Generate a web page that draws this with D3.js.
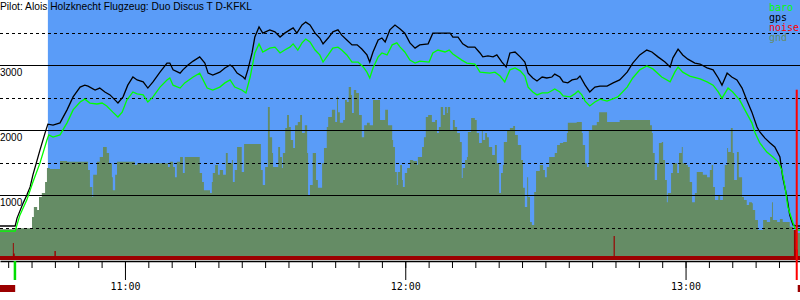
<!DOCTYPE html>
<html>
<head>
<meta charset="utf-8">
<script src="https://cdn.jsdelivr.net/npm/d3@7"></script>
<style>
  body { margin: 0; background: #fff; }
  svg { display: block; }
</style>
</head>
<body>
<div id="graph"></div>
<script>
// DATA (time in minutes after 10:30, altitude in m)
const title = 'Pilot: Alois Holzknecht Flugzeug: Duo Discus T D-KFKL';
const legendNames = ['baro', 'gps', 'noise', 'gnd'];
const solidTicks = [1000, 2000, 3000];
const dashedTicks = [500, 1500, 2500, 3500];
const hourLabels = ['11:00', '12:00', '13:00'];
const timeStart = 3.25;
const timeEnd = 174.5;
const takeoff = 6.5;
const release = 13.5;
const landing = 173.8;
const landingMark = 2620;

const gps = [[3.2,523],[6.5,523],[6.9,645],[8.2,875],[9.0,1000],[9.7,1125],[10.3,1310],[11.8,1690],[12.9,1955],[13.5,2090],
  [14.6,2075],[16.1,2110],[17.6,2310],[18.9,2510],[20.4,2660],[21.4,2690],[22.1,2675],[23.6,2615],[24.6,2645],[25.7,2585],
  [26.8,2540],[27.9,2460],[28.5,2415],[29.6,2510],[30.6,2690],[31.7,2815],[32.6,2770],[33.9,2740],[34.9,2645],[36.0,2740],
  [37.5,2890],[39.0,3030],[39.6,3030],[40.3,2925],[41.8,2875],[42.4,2925],[43.5,3000],[44.6,3060],[46.0,3125],[47.1,3030],
  [47.8,2875],[48.8,2845],[50.3,2890],[51.4,2955],[52.5,3000],[53.1,2970],[54.0,2875],[55.3,2815],[55.7,2785],[56.3,2925],
  [57.2,3185],[57.8,3430],[58.7,3585],[59.5,3490],[61.0,3540],[62.1,3510],[63.2,3430],[64.2,3490],[65.3,3540],[66.0,3570],
  [66.8,3490],[67.9,3615],[68.7,3660],[69.6,3615],[70.7,3490],[71.7,3415],[72.4,3325],[73.5,3415],[74.5,3510],[75.6,3540],
  [76.4,3460],[77.5,3385],[78.6,3310],[79.7,3310],[80.7,3245],[81.8,3155],[82.4,3045],[83.1,3200],[84.2,3385],[85.0,3415],
  [85.7,3355],[86.7,3540],[87.8,3615],[88.9,3555],[89.9,3490],[91.0,3340],[92.1,3260],[93.1,3310],[94.9,3325],[95.9,3490],
  [97.0,3490],[99.6,3490],[100.2,3430],[101.3,3430],[102.3,3325],[103.4,3275],[104.9,3275],[106.0,3185],[106.6,3125],[107.7,3140],
  [108.8,3125],[109.6,3155],[110.7,3045],[111.6,2970],[112.4,3185],[113.5,3200],[114.6,3125],[115.6,3045],[116.3,2875],[117.3,2800],
  [118.2,2755],[119.3,2815],[120.3,2800],[121.4,2815],[122.0,2860],[123.1,2815],[123.8,2740],[124.8,2725],[125.7,2770],[126.8,2785],
  [127.4,2830],[128.5,2690],[129.5,2585],[130.6,2660],[131.7,2675],[133.2,2675],[134.5,2725],[135.9,2770],[137.5,2890],[138.7,3030],
  [140.2,3155],[141.7,3230],[142.8,3200],[144.1,3125],[145.6,3045],[146.7,2970],[147.3,3110],[148.4,3245],[149.4,3155],[150.5,3090],
  [152.0,3030],[153.1,3015],[154.6,2955],[155.9,2925],[157.0,2800],[157.8,2690],[158.9,2875],[159.9,2815],[161.0,2770],[162.1,2645],
  [163.1,2460],[164.2,2275],[165.3,2045],[165.9,1970],[167.0,1875],[168.1,1800],[169.1,1740],[170.2,1585],[170.8,1275],[171.7,970],
  [172.3,690],[173.0,540],[173.8,523],[174.5,523]];

const baro = [[3.2,445],[6.5,445],[7.5,690],[9.0,925],[10.3,1200],[11.8,1490],[13.3,1845],[13.7,1925],[14.6,1890],[16.1,1925],
  [17.6,2110],[18.9,2310],[20.4,2430],[21.4,2475],[22.5,2415],[24.0,2400],[25.1,2415],[26.1,2370],[27.4,2275],[28.5,2200],
  [29.4,2275],[30.4,2460],[31.7,2585],[32.6,2555],[33.9,2540],[34.9,2430],[36.0,2510],[37.5,2660],[39.0,2770],[39.6,2800],
  [40.3,2690],[41.8,2645],[42.8,2725],[44.6,2815],[46.0,2875],[47.6,2645],[48.8,2615],[50.3,2660],[51.4,2725],[52.5,2770],
  [53.5,2660],[55.0,2615],[55.9,2570],[56.8,2815],[57.8,3185],[58.7,3325],[59.5,3200],[61.0,3260],[62.1,3275],[63.2,3185],
  [64.2,3230],[65.3,3275],[66.0,3325],[67.0,3230],[67.9,3340],[68.7,3400],[69.6,3355],[70.7,3230],[71.7,3155],[72.4,3045],
  [73.5,3155],[74.5,3260],[75.6,3275],[76.4,3230],[77.5,3155],[78.6,3045],[79.9,3045],[81.0,2970],[81.8,2890],[82.4,2800],
  [83.1,2955],[84.2,3125],[85.0,3185],[86.1,3155],[87.2,3310],[88.2,3340],[88.9,3275],[89.9,3200],[91.0,3075],[92.1,3030],
  [93.1,3060],[95.1,3045],[95.9,3185],[97.0,3230],[98.5,3200],[99.4,3230],[100.2,3170],[102.1,3075],[103.2,3030],[104.9,3015],
  [106.0,2890],[108.1,2875],[109.2,2890],[110.3,2830],[111.3,2740],[112.4,2925],[113.5,2955],[114.6,2910],[115.6,2830],[116.3,2660],
  [117.3,2585],[118.2,2540],[119.3,2570],[120.5,2570],[122.0,2630],[123.1,2585],[123.8,2525],[125.3,2510],[126.3,2555],[127.0,2600],
  [127.8,2540],[128.5,2445],[129.5,2370],[130.6,2430],[131.7,2475],[133.2,2445],[135.5,2510],[137.5,2660],[138.7,2800],[140.2,2925],
  [141.7,2985],[143.0,2940],[144.9,2815],[146.7,2740],[147.7,2890],[148.4,2970],[149.4,2890],[150.9,2830],[153.1,2785],[154.6,2740],
  [155.9,2690],[157.0,2585],[157.8,2490],[159.1,2645],[160.1,2585],[161.6,2460],[162.7,2310],[164.2,2110],[164.9,1955],[165.9,1800],
  [167.4,1660],[168.7,1585],[169.8,1510],[170.6,1385],[171.3,1125],[171.9,815],[172.8,615],[173.4,490],[174.1,460],[174.5,460]];

const gnd = [[3.2,475],[6.5,490],[10.1,660],[10.5,815],[11.2,770],[11.6,970],[12.2,1030],[12.9,1200],[13.3,1415],[13.9,1400],
  [16.1,1525],[17.6,1510],[22.1,1385],[22.5,1125],[23.0,970],[23.2,1310],[24.0,1510],[24.6,1585],[25.3,1740],[26.1,1645],
  [26.6,1490],[27.2,1275],[27.4,1075],[27.9,1310],[28.3,1510],[32.1,1460],[32.6,1490],[39.2,1430],[39.6,1510],[40.3,1430],
  [40.7,1275],[41.1,1510],[41.8,1585],[42.4,1340],[42.8,1585],[46.0,1340],[46.5,1200],[46.9,1075],[48.2,1030],[48.6,1200],
  [48.8,1340],[49.3,1460],[49.9,1310],[50.3,1385],[51.0,1310],[51.6,1645],[52.0,1490],[52.9,1540],[53.1,1200],[53.5,1385],
  [54.0,1740],[55.0,1355],[55.5,1785],[59.1,1385],[59.5,1155],[60.0,1430],[60.6,2355],[61.0,1890],[61.5,1645],[61.7,1430],
  [62.8,1740],[63.2,1585],[63.6,1415],[63.8,1645],[64.3,2030],[64.7,2230],[65.1,2045],[65.5,1845],[66.0,1725],[66.4,2075],
  [67.0,2125],[67.5,2230],[67.9,1955],[68.5,2075],[69.0,1645],[69.2,1000],[69.6,1155],[70.2,1645],[70.9,1230],[71.3,1110],
  [72.2,1490],[72.6,1725],[73.2,2045],[73.5,2200],[74.3,2310],[75.0,2125],[75.4,2510],[75.6,2275],[76.0,2110],[76.7,2155],
  [77.1,2460],[77.5,2430],[77.9,2660],[78.4,2540],[78.6,2260],[79.0,2615],[79.5,2570],[80.1,2230],[80.7,1890],[81.2,2075],
  [81.8,2110],[82.4,2075],[83.1,2460],[84.6,2155],[85.7,2310],[86.3,2075],[87.2,1845],[87.4,1740],[87.8,1355],[88.2,1155],
  [88.4,1355],[88.9,1460],[89.3,1230],[89.5,1125],[89.9,1340],[90.4,1415],[91.0,1540],[91.7,1525],[92.5,1460],[92.7,1585],
  [93.6,1740],[94.0,1890],[94.4,2200],[94.9,2230],[95.7,2125],[96.4,2155],[96.8,1955],[97.2,2045],[97.6,2355],[98.1,2230],
  [98.5,2355],[98.9,2260],[99.1,2355],[99.6,2000],[100.2,2155],[100.6,2045],[101.1,1955],[101.7,1815],[102.1,1260],[102.3,1415],
  [102.8,1540],[103.2,1585],[103.4,1970],[104.1,2185],[104.9,2155],[105.3,1955],[105.8,1800],[106.4,2000],[106.6,1845],[107.1,1955],
  [107.5,1890],[107.9,1740],[108.6,1615],[109.2,1770],[109.6,1490],[110.1,1030],[110.5,1340],[110.9,1460],[111.1,1815],[111.8,2000],
  [112.4,2030],[113.1,2060],[113.5,1925],[114.1,1770],[114.8,1540],[115.2,1110],[115.6,815],[116.1,1275],[116.3,970],[116.7,585],
  [117.1,540],[117.6,1045],[118.0,1370],[118.8,1460],[119.5,1385],[119.9,1275],[120.3,1430],[120.8,1585],[122.0,1645],[122.5,1770],
  [123.1,1800],[123.8,1815],[124.6,1955],[124.8,2110],[125.9,2110],[126.7,2125],[127.8,1955],[128.0,1770],[128.5,1490],[128.9,1430],
  [129.3,2000],[130.0,2075],[131.0,2125],[131.5,2275],[133.2,2125],[135.9,2155],[142.4,2075],[142.8,1955],[143.0,1645],[143.4,1230],
  [143.9,1490],[144.3,1800],[144.9,1815],[145.2,1540],[145.6,1230],[146.0,890],[146.2,1030],[146.9,1340],[147.3,1490],[148.2,1340],
  [148.6,1645],[149.2,1740],[149.4,1490],[150.1,1460],[150.5,1430],[150.9,1200],[151.4,890],[152.0,1030],[152.4,1355],[153.7,1310],
  [154.6,1275],[155.2,1385],[155.6,1460],[155.9,1125],[156.3,925],[157.0,1000],[157.4,925],[158.0,1125],[158.4,1460],[158.9,1725],
  [159.1,1660],[159.7,2030],[160.1,1645],[160.4,1230],[161.0,1660],[161.4,1275],[162.1,970],[162.5,925],[163.1,845],[163.6,890],
  [164.2,875],[164.4,770],[164.9,615],[165.5,460],[166.6,615],[167.4,585],[168.1,660],[168.5,890],[168.7,615],[169.6,585],
  [170.2,630],[170.8,585],[171.7,585],[172.3,510],[173.0,460],[173.8,415],[174.5,415]];

const noise = [[3.2,60],[6.0,260],[6.2,100],[6.4,60],[14.9,140],[15.2,60],[134.6,370],[134.85,60],
  [173.2,460],[173.6,160],[174.0,60],[174.5,60]];

const colors = { baro: '#00ff00', gps: '#000000', noise: '#ff0000', gnd: '#658c65' };
const skyColor = '#5a9cf8';
const noiseFill = '#9b0000';

document.addEventListener('DOMContentLoaded', () => {
  const width = 800;
  const height = 300;
  const axisY = 261;

  const toDate = m => new Date(2000, 0, 1, 10, 30, 0, Math.round(m * 60000));

  const svg = d3.select('#graph')
    .append('svg')
    .attr('width', width)
    .attr('height', height);

  const xScale = d3.scaleTime()
    .domain([toDate(timeStart), toDate(timeEnd)])
    .range([0, width]);

  const yScale = d3.scaleLinear()
    .domain([0, 4000])
    .range([260, 0]);

  // FLIGHT BACKGROUND
  svg.append('rect')
    .attr('x', xScale(toDate(release)))
    .attr('y', 0)
    .attr('width', width - xScale(toDate(release)))
    .attr('height', yScale(0))
    .attr('fill', skyColor);

  // GROUND
  svg.append('path')
    .datum(gnd)
    .attr('fill', colors.gnd)
    .attr('d', d3.area()
      .curve(d3.curveStepAfter)
      .x(d => xScale(toDate(d[0])))
      .y0(yScale(0))
      .y1(d => yScale(d[1]))
    );

  // NOISE
  svg.append('path')
    .datum(noise)
    .attr('fill', noiseFill)
    .attr('d', d3.area()
      .curve(d3.curveStepAfter)
      .x(d => xScale(toDate(d[0])))
      .y0(yScale(0))
      .y1(d => yScale(d[1]))
    );

  // GRID
  svg.append('g')
    .selectAll('line')
    .data(dashedTicks)
    .enter()
    .append('line')
    .attr('x1', 0)
    .attr('x2', width)
    .attr('y1', d => Math.round(yScale(d)) + 0.5)
    .attr('y2', d => Math.round(yScale(d)) + 0.5)
    .attr('stroke', '#000')
    .attr('stroke-dasharray', '3,3');

  svg.append('g')
    .selectAll('line')
    .data(solidTicks)
    .enter()
    .append('line')
    .attr('x1', 0)
    .attr('x2', width)
    .attr('y1', d => Math.round(yScale(d)) + 0.5)
    .attr('y2', d => Math.round(yScale(d)) + 0.5)
    .attr('stroke', '#000');

  // LINES
  const line = d3.line()
    .x(d => xScale(toDate(d[0])))
    .y(d => yScale(d[1]));

  svg.append('path')
    .datum(gps)
    .attr('fill', 'none')
    .attr('stroke', colors.gps)
    .attr('stroke-width', 1.3)
    .attr('d', line);

  svg.append('path')
    .datum(baro)
    .attr('fill', 'none')
    .attr('stroke', colors.baro)
    .attr('stroke-width', 1.3)
    .attr('d', line);

  // Y LABELS
  svg.append('g')
    .selectAll('text')
    .data(solidTicks)
    .enter()
    .append('text')
    .attr('x', 0)
    .attr('y', d => yScale(d) + 10.5)
    .attr('font-family', 'Liberation Sans, Arial, sans-serif')
    .attr('font-size', 10)
    .text(d => d);

  // X AXIS
  const minorAxis = d3.axisBottom(xScale)
    .ticks(d3.timeMinute.every(5))
    .tickSize(7)
    .tickSizeOuter(0)
    .tickFormat('');

  const minorG = svg.append('g')
    .attr('transform', `translate(0,${axisY})`)
    .call(minorAxis);
  minorG.select('.domain').attr('stroke-width', 1.5);

  const hourTicks = hourLabels.map(h => {
    const [hh, mm] = h.split(':').map(Number);
    return new Date(2000, 0, 1, hh, mm);
  });

  const majorAxis = d3.axisBottom(xScale)
    .tickValues(hourTicks)
    .tickSize(19)
    .tickSizeOuter(0)
    .tickPadding(2)
    .tickFormat((d, i) => hourLabels[i]);

  const majorG = svg.append('g')
    .attr('transform', `translate(0,${axisY})`)
    .call(majorAxis);
  majorG.select('.domain').remove();
  majorG.selectAll('text')
    .attr('font-family', 'DejaVu Sans Mono, monospace')
    .attr('font-size', 10)
    .attr('fill', '#000')
    .attr('dy', null)
    .attr('y', 29);

  // TAKEOFF / LANDING MARKERS
  svg.append('rect')
    .attr('x', xScale(toDate(takeoff)) - 1.5)
    .attr('y', axisY)
    .attr('width', 2.5)
    .attr('height', 19)
    .attr('fill', '#00dd00');

  svg.append('rect')
    .attr('x', xScale(toDate(landing)) - 1)
    .attr('y', yScale(landingMark))
    .attr('width', 2)
    .attr('height', 280 - yScale(landingMark))
    .attr('fill', colors.noise);

  svg.append('rect')
    .attr('x', 0)
    .attr('y', 285)
    .attr('width', xScale(toDate(takeoff)))
    .attr('height', 7)
    .attr('fill', noiseFill);

  svg.append('rect')
    .attr('x', xScale(toDate(landing)) + 1)
    .attr('y', 285)
    .attr('width', width - xScale(toDate(landing)) - 1)
    .attr('height', 7)
    .attr('fill', noiseFill);

  // TITLE
  svg.append('text')
    .attr('x', 0)
    .attr('y', 10)
    .attr('font-family', 'Liberation Sans, Arial, sans-serif')
    .attr('font-size', 10.25)
    .text(title);

  // LEGEND
  svg.append('g')
    .selectAll('text')
    .data(legendNames)
    .enter()
    .append('text')
    .attr('x', 769)
    .attr('y', (d, i) => 10.5 + i * 10)
    .attr('font-family', 'DejaVu Sans Mono, monospace')
    .attr('font-size', 10)
    .attr('fill', d => colors[d])
    .text(d => d);
});
</script>
</body>
</html>
